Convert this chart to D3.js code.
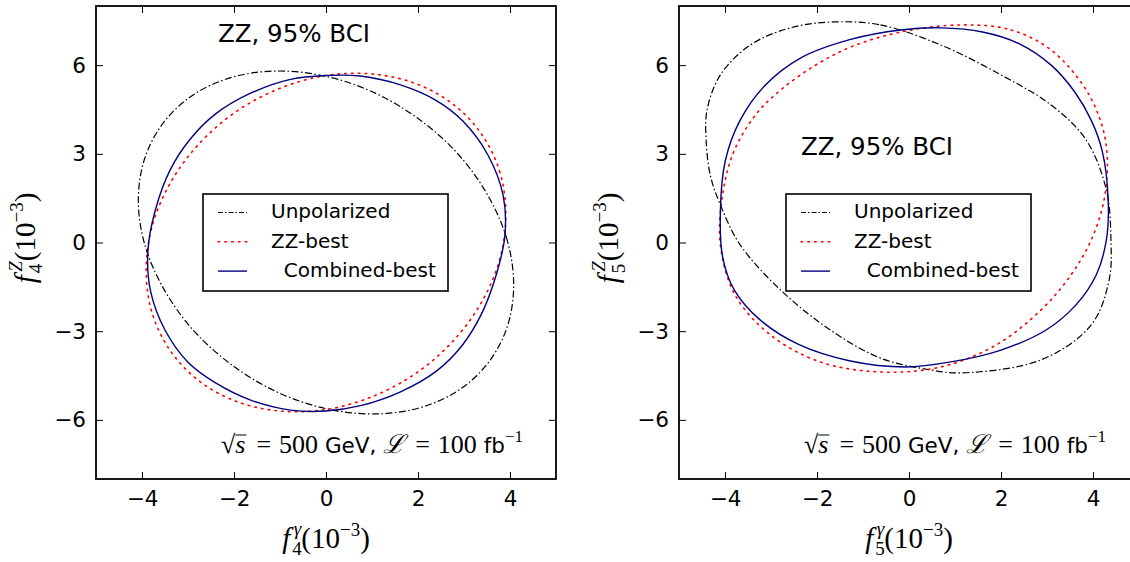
<!DOCTYPE html>
<html><head><meta charset="utf-8">
<script src="https://cdn.jsdelivr.net/npm/d3@7"></script>
<style>body{margin:0;background:#fff}svg{display:block}</style>
</head><body><svg id="c" width="1130" height="562"></svg>
<script>
const xTicks = [-4, -2, 0, 2, 4];
const yTicks = [-6, -3, 0, 3, 6];
const xDomain = [-5, 5];
const yDomain = [-8, 8];
const legendLabels = ["Unpolarized", "ZZ-best", "  Combined-best"];
const panelTitle = "ZZ, 95% BCI";

// Left panel: (f4^gamma, f4^Z)
const f4Unpolarized = [[4.08,-1.44],[3.94,0.07],[3.53,1.56],[2.89,2.96],[2.04,4.15],[1.06,5.06],[0,5.62],[-1.06,5.80],[-2.04,5.59],[-2.89,4.99],[-3.53,4.06],[-3.94,2.85],[-4.08,1.44],[-3.94,-0.07],[-3.53,-1.56],[-2.89,-2.96],[-2.04,-4.15],[-1.06,-5.06],[0,-5.62],[1.06,-5.80],[2.04,-5.59],[2.89,-4.99],[3.53,-4.06],[3.94,-2.85]];
const f4ZZBest = [[3.91,0.95],[3.78,2.38],[3.39,3.65],[2.77,4.67],[1.96,5.37],[1.01,5.70],[0,5.65],[-1.01,5.21],[-1.96,4.42],[-2.77,3.32],[-3.39,2.00],[-3.78,0.55],[-3.91,-0.95],[-3.78,-2.38],[-3.39,-3.65],[-2.77,-4.67],[-1.96,-5.37],[-1.01,-5.70],[0,-5.65],[1.01,-5.21],[1.96,-4.42],[2.77,-3.32],[3.39,-2.00],[3.78,-0.55]];
const f4CombinedBest = [[0,5.65],[-0.77,5.52],[-1.64,5.05],[-2.4,4.35],[-2.95,3.5],[-3.39,2.45],[-3.71,1.1],[-3.87,-0.25],[-3.82,-1.6],[-3.5,-2.96],[-3.0,-4.05],[-2.4,-4.75],[-1.64,-5.33],[-0.77,-5.67],[0,-5.7],[0.75,-5.52],[1.62,-5.05],[2.4,-4.35],[2.95,-3.5],[3.37,-2.45],[3.7,-1.1],[3.89,0.25],[3.85,1.6],[3.52,2.96],[2.98,4.1],[2.4,4.8],[1.62,5.33],[0.75,5.63]];

// Right panel: (f5^gamma, f5^Z)
const f5Unpolarized = [[-1.64,7.46],[-0.62,7.36],[0.69,6.68],[2.0,5.67],[3.09,4.65],[3.85,3.47],[4.29,1.78],[4.39,0.08],[4.35,-1.27],[3.96,-2.79],[2.87,-3.97],[1.13,-4.41],[0.47,-4.31],[-0.62,-3.91],[-1.71,-2.96],[-2.79,-1.61],[-3.67,-0.08],[-4.1,1.27],[-4.32,2.28],[-4.41,3.47],[-4.39,4.48],[-4.1,5.67],[-3.45,6.68],[-2.58,7.26]];
const f5ZZBest = [[1.13,7.36],[2.22,7.19],[3.09,6.51],[3.81,5.26],[4.18,4.04],[4.31,2.9],[4.24,1.44],[3.96,0.08],[3.52,-1.1],[2.87,-2.28],[1.89,-3.47],[0.69,-4.21],[-0.62,-4.38],[-1.93,-4.04],[-3.01,-3.13],[-3.78,-1.78],[-4.1,-0.08],[-4.06,1.54],[-3.82,3.03],[-3.34,4.31],[-2.79,5.16],[-2.03,6.0],[-1.27,6.61],[-0.18,7.12]];
const f5CombinedBest = [[0.69,7.26],[1.6,7.12],[2.4,6.72],[3.09,6.0],[3.6,5.1],[3.96,4.14],[4.2,3.1],[4.33,1.44],[4.29,0.08],[4.07,-1.1],[3.63,-2.11],[2.98,-2.96],[2.0,-3.64],[0.91,-4.04],[-0.07,-4.21],[-1.3,-4.0],[-2.4,-3.45],[-3.25,-2.6],[-3.8,-1.6],[-4.05,-0.5],[-4.1,1.1],[-3.99,2.79],[-3.67,4.14],[-3.12,5.33],[-2.36,6.24],[-1.27,6.87],[-0.18,7.19]];

const svg = d3.select("#c");
const SANS = "DejaVu Sans";
const SERIF = "Liberation Serif";

const panels = [
  {x0:96, x1:556, y0:6, y1:479, idx:"4", series:[f4Unpolarized,f4ZZBest,f4CombinedBest],
   title:{x:294, y:42}, legend:{x:203, y:194}, note:{x:221, y:453}},
  {x0:679, x1:1139, y0:6, y1:479, idx:"5", series:[f5Unpolarized,f5ZZBest,f5CombinedBest],
   title:{x:877, y:155}, legend:{x:786, y:194}, note:{x:804, y:453}}
];
const styles = [
  {stroke:"#000", width:1.2, dash:"7,2.5,1.5,2.5"},
  {stroke:"#ff0000", width:1.6, dash:"1.6,5.2"},
  {stroke:"#000080", width:1.4, dash:null}
];

function mathText(g, x, y, parts, anchor, size) {
  const t = g.append("text").attr("x", x).attr("y", y)
    .attr("text-anchor", anchor).attr("font-size", size).attr("fill", "#000")
    .style("white-space", "pre");
  parts.forEach(p => {
    const s = t.append("tspan").text(p.t)
      .attr("font-family", p.f || SERIF)
      .attr("font-style", p.i ? "italic" : "normal")
      .attr("font-size", p.s || size);
    if (p.dx != null) s.attr("dx", p.dx);
    if (p.dy != null) s.attr("dy", p.dy);
  });
  return t;
}

panels.forEach(P => {
  const xs = d3.scaleLinear().domain(xDomain).range([P.x0, P.x1]);
  const ys = d3.scaleLinear().domain(yDomain).range([P.y1, P.y0]);
  const g = svg.append("g");
  const cid = "clip" + P.idx;
  svg.append("clipPath").attr("id", cid).append("rect")
    .attr("x", P.x0).attr("y", P.y0).attr("width", P.x1 - P.x0).attr("height", P.y1 - P.y0);

  const line = d3.line().x(d => xs(d[0])).y(d => ys(d[1])).curve(d3.curveCatmullRomClosed.alpha(0.5));
  const cg = g.append("g").attr("clip-path", `url(#${cid})`);
  P.series.forEach((s, i) => {
    const st = styles[i];
    cg.append("path").attr("d", line(s)).attr("fill", "none")
      .attr("stroke", st.stroke).attr("stroke-width", st.width)
      .attr("stroke-dasharray", st.dash).attr("stroke-linecap", i === 1 ? "round" : "butt");
  });

  const tl = 7;
  const fmt = d => d < 0 ? "\u2212" + Math.abs(d) : d;
  const axB = d3.axisBottom(xs).tickValues(xTicks).tickSizeInner(-tl).tickSizeOuter(0).tickFormat(fmt).tickPadding(12);
  const axT = d3.axisTop(xs).tickValues(xTicks).tickSizeInner(-tl).tickSizeOuter(0).tickFormat("");
  const axL = d3.axisLeft(ys).tickValues(yTicks).tickSizeInner(-tl).tickSizeOuter(0).tickFormat(fmt).tickPadding(10);
  const axR = d3.axisRight(ys).tickValues(yTicks).tickSizeInner(-tl).tickSizeOuter(0).tickFormat("");
  const gb = g.append("g").attr("transform", `translate(0,${P.y1})`).call(axB);
  const gt = g.append("g").attr("transform", `translate(0,${P.y0})`).call(axT);
  const gl = g.append("g").attr("transform", `translate(${P.x0},0)`).call(axL);
  const gr = g.append("g").attr("transform", `translate(${P.x1},0)`).call(axR);
  [gb, gt, gl, gr].forEach(a => {
    a.select(".domain").remove();
    a.selectAll(".tick line").attr("stroke", "#000").attr("stroke-width", 1);
    a.selectAll("text").attr("font-family", SANS).attr("font-size", 21.5).attr("fill", "#000");
  });
  gb.selectAll("text").attr("dy", "0.71em");
  g.append("rect").attr("x", P.x0).attr("y", P.y0).attr("width", P.x1 - P.x0).attr("height", P.y1 - P.y0)
    .attr("fill", "none").attr("stroke", "#000").attr("stroke-width", 1.8);

  g.append("text").attr("x", P.title.x).attr("y", P.title.y).attr("text-anchor", "middle")
    .attr("font-family", SANS).attr("font-size", 24.5).text(panelTitle);

  const L = g.append("g").attr("transform", `translate(${P.legend.x},${P.legend.y})`);
  L.append("rect").attr("width", 245).attr("height", 97).attr("fill", "#fff")
    .attr("stroke", "#000").attr("stroke-width", 1.6);
  legendLabels.forEach((lab, i) => {
    const st = styles[i];
    const ly = 18.5 + i * 29.3;
    L.append("line").attr("x1", 15).attr("x2", 44).attr("y1", ly).attr("y2", ly)
      .attr("stroke", st.stroke).attr("stroke-width", st.width)
      .attr("stroke-dasharray", i === 0 ? "5,2,1.5,2" : (i === 1 ? "1.6,5.2" : null))
      .attr("stroke-linecap", i === 1 ? "round" : "butt");
    L.append("text").attr("x", 68).attr("y", 24 + i * 29.5).attr("font-family", SANS)
      .attr("font-size", 20).style("white-space", "pre").text(lab);
  });

  const nt = mathText(g, P.note.x, P.note.y, [
    {t:"\u221A"}, {t:"s", i:true}, {t:"=", dx:11}, {t:"500", dx:8}, {t:" GeV, ", f:SANS, s:21.5},
    {t:"\u2112", i:true}, {t:"=", dx:10}, {t:"100", dx:8}, {t:" fb", f:SANS, s:21.5}, {t:"\u22121", s:17, dy:-11}
  ], "start", 26);
  const n = nt.node();
  const sx0 = n.getStartPositionOfChar(1).x, sx1 = n.getEndPositionOfChar(1).x;
  g.append("line").attr("x1", sx0).attr("x2", sx1 + 1).attr("y1", P.note.y - 18).attr("y2", P.note.y - 18)
    .attr("stroke", "#000").attr("stroke-width", 1);

  const cx = (P.x0 + P.x1) / 2;
  mathText(g, cx, 548, [
    {t:"f", i:true}, {t:P.idx, s:19, dx:2, dy:7}, {t:"\u03B3", i:true, s:19, dx:-8, dy:-20},
    {t:"(10", dy:13}, {t:"\u22123", s:19, dy:-12}, {t:")", dy:12}
  ], "middle", 29);
  const yl = mathText(g, 0, 0, [
    {t:"f", i:true}, {t:P.idx, s:19, dx:2, dy:7}, {t:"Z", i:true, s:19, dx:-8, dy:-20},
    {t:"(10", dy:13}, {t:"\u22123", s:19, dy:-12}, {t:")", dy:12}
  ], "middle", 29);
  yl.attr("transform", `translate(${P.x0 - 61},238) rotate(-90)`);
});
</script></body></html>
